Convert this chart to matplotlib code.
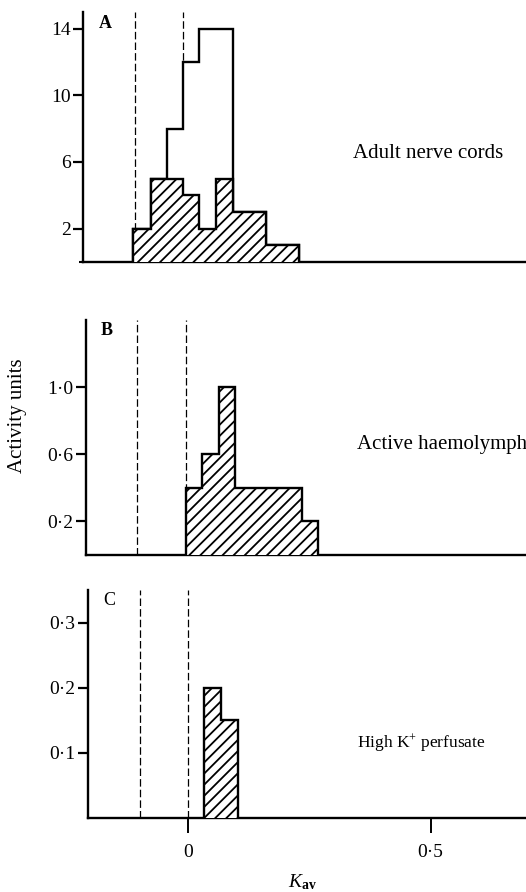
import matplotlib
matplotlib.use('Agg')
import matplotlib.pyplot as plt

# font setup
plt.rcParams['font.family'] = ['Liberation Serif', 'DejaVu Serif']
plt.rcParams['mathtext.fontset'] = 'custom'
plt.rcParams['mathtext.rm'] = 'Liberation Serif'
plt.rcParams['mathtext.it'] = 'Liberation Serif:italic'
plt.rcParams['mathtext.bf'] = 'Liberation Serif:bold'
plt.rcParams['hatch.linewidth'] = 1.3

# data (Kav bins)
edges_a = [-0.103, -0.066, -0.033, 0.0, 0.034, 0.069, 0.103, 0.138, 0.172, 0.206, 0.240]
total_a = [2, 5, 8, 12, 14, 14, 3, 3, 1, 1]
hatched_a = [2, 5, 5, 4, 2, 5, 3, 3, 1, 1]

edges_b = [0.0, 0.034, 0.069, 0.103, 0.138, 0.172, 0.206, 0.240, 0.274]
hatched_b = [0.4, 0.6, 1.0, 0.4, 0.4, 0.4, 0.4, 0.2]

edges_c = [0.034, 0.069, 0.103]
hatched_c = [0.2, 0.15]

dashed_x = [-0.1, 0.0]

yticks_a = [2, 6, 10, 14]
ylabels_a = ['2', '6', '10', '14']
yticks_b = [0.2, 0.6, 1.0]
ylabels_b = ['0·2', '0·6', '1·0']
yticks_c = [0.1, 0.2, 0.3]
ylabels_c = ['0·1', '0·2', '0·3']
xticks_c = [0, 0.5]
xlabels_c = ['0', '0·5']

W, H = 526, 892
fig = plt.figure(figsize=(W / 100, H / 100), dpi=100)

px_per_unit = 485.0
tick_fs = 14


def make_ax(left_px, top_px, bottom_px, ymax):
    ax = fig.add_axes([left_px / W, 1 - bottom_px / H, 1 - left_px / W, (bottom_px - top_px) / H])
    xmin = -100.0 / px_per_unit
    ax.set_xlim(xmin, xmin + (W - left_px) / px_per_unit)
    ax.set_ylim(0, ymax)
    for s in ['top', 'right']:
        ax.spines[s].set_visible(False)
    for s in ['left', 'bottom']:
        ax.spines[s].set_linewidth(1.7)
    ax.tick_params(axis='y', direction='out', length=7, width=1.6, pad=2, labelsize=tick_fs)
    for x in dashed_x:
        ax.axvline(x, color='black', lw=0.9, ls=(0, (6, 2.5)), zorder=0.5)
    return ax


# panel A
ax_a = make_ax(83, 12, 262, 15)
ax_a.stairs(total_a, edges_a, fill=True, facecolor='white', edgecolor='black', lw=1.7, zorder=2)
ax_a.stairs(hatched_a, edges_a, fill=True, facecolor='white', edgecolor='black', hatch='///', lw=1.7, zorder=3)
ax_a.set_yticks(yticks_a, ylabels_a)
ax_a.set_yticks([0], minor=True)
ax_a.tick_params(axis='y', which='minor', length=3, width=1.5)
ax_a.set_xticks([])
ax_a.text(0.035, 0.99, 'A', transform=ax_a.transAxes, fontsize=13, fontweight='bold', va='top', ha='left')

# panel B
ax_b = make_ax(85.5, 320, 555, 1.4)
ax_b.stairs(hatched_b, edges_b, fill=True, facecolor='white', edgecolor='black', hatch='///', lw=1.7, zorder=3)
ax_b.set_yticks(yticks_b, ylabels_b)
ax_b.set_xticks([])
ax_b.text(0.035, 0.99, 'B', transform=ax_b.transAxes, fontsize=13, fontweight='bold', va='top', ha='left')

# panel C
ax_c = make_ax(88, 590, 818, 0.35)
ax_c.stairs(hatched_c, edges_c, fill=True, facecolor='white', edgecolor='black', hatch='///', lw=1.7, zorder=3)
ax_c.set_yticks(yticks_c, ylabels_c)
ax_c.set_xticks(xticks_c, xlabels_c)
ax_c.tick_params(axis='x', direction='out', length=11, width=1.4, pad=8, labelsize=tick_fs)
ax_c.text(0.035, 0.99, 'C', transform=ax_c.transAxes, fontsize=13, va='top', ha='left')

# labels
fig.text(353 / W, 1 - 153 / H, 'Adult nerve cords', fontsize=15, va='center', ha='left')
fig.text(357 / W, 1 - 445 / H, 'Active haemolymph', fontsize=15, va='center', ha='left')
fig.text(357 / W, 1 - 743 / H, 'High K$^{+}$ perfusate', fontsize=12.5, va='center', ha='left')
fig.text(18 / W, 1 - 416 / H, 'Activity units', fontsize=15, rotation=90, va='center', ha='center')
fig.text(302 / W, 1 - 882 / H, r'$\mathit{K}_{\mathbf{av}}$', fontsize=14, va='center', ha='center')

fig.savefig('out.png', dpi=100)
